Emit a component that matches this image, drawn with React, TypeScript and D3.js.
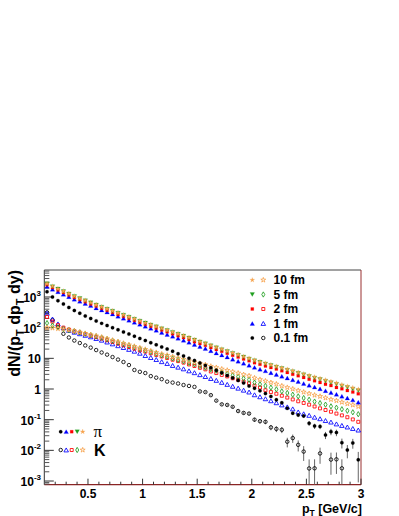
import React from 'react';
import * as d3 from 'd3';

// ---------- data ----------
const pT = [0.125,0.175,0.225,0.275,0.325,0.375,0.425,0.475,0.525,0.575,0.625,0.675,0.725,0.775,0.825,0.875,0.925,0.975,1.025,1.075,1.125,1.175,1.225,1.275,1.325,1.375,1.425,1.475,1.525,1.575,1.625,1.675,1.725,1.775,1.825,1.875,1.925,1.975,2.025,2.075,2.125,2.175,2.225,2.275,2.325,2.375,2.425,2.475,2.525,2.575,2.625,2.675,2.725,2.775,2.825,2.875,2.925,2.975];

const pion10fm = [2750,2240,1860,1550,1290,1070,912,776,661,562,479,412,355,305,263,226,195,168,145,126,110,95.5,83.2,72.4,63.1,55.0,47.3,40.7,35.5,30.9,26.6,22.9,20.0,17.4,15.1,13.2,11.5,10.0,8.71,7.76,6.92,6.17,5.50,4.90,4.37,3.89,3.47,3.09,2.75,2.45,2.19,1.95,1.74,1.55,1.38,1.23,1.10,0.977];
const pion5fm = [2700,2190,1820,1520,1260,1050,895,760,648,551,470,404,348,299,257,221,191,164,142,123,107,93.0,81.0,70.5,61.4,53.4,46.0,39.6,34.5,30.0,25.8,22.2,19.3,16.8,14.6,12.7,11.1,9.62,8.36,7.43,6.62,5.89,5.24,4.66,4.14,3.68,3.27,2.91,2.58,2.29,2.04,1.81,1.61,1.43,1.27,1.13,1.00,0.89];
const pion2fm = [2500,2040,1690,1410,1160,963,821,698,595,506,426,367,316,271,234,201,174,150,129,112,96.8,84.0,73.2,63.0,54.9,47.9,41.2,35.0,30.5,26.6,22.6,19.5,17.0,14.6,12.7,11.1,9.55,8.30,7.23,6.36,5.67,5.00,4.46,3.92,3.45,3.03,2.71,2.38,2.09,1.86,1.64,1.44,1.29,1.13,1.01,0.886,0.792,0.694];
const pion1fm = [2170,1770,1470,1220,1020,845,720,613,522,438,374,321,277,235,203,174,148,128,110,94.5,81.4,69.7,59.9,52.1,44.8,38.5,33.1,28.1,24.1,20.7,17.6,14.9,12.8,11.0,9.36,8.05,6.90,5.90,5.05,4.42,3.88,3.39,2.97,2.60,2.27,1.98,1.74,1.51,1.32,1.15,1.01,0.878,0.766,0.667,0.580,0.504,0.440,0.371];
const pion01fm = [1480,1000,759,589,457,363,295,240,200,166,138,117,100,85.1,72.4,61.7,52.5,44.7,38.0,32.4,27.5,23.4,20.0,17.0,14.1,12.0,10.0,8.51,7.08,5.89,4.90,4.07,3.39,2.75,2.29,1.91,1.58,1.26,1.05,0.871,0.708,0.575,0.447,0.355,0.234,0.162,0.141,0.132,0.0759,0.0617,0.060,0.0316,0.0407,0.038,0.0178,0.0102,0.0175,0.0049];
const pion01fmErr = [0,0,0,0,0,0,0,0,0,0,0,0,0,0,0,0,0,0,0,0,0,0,0,0,0,0,0,0,0,0,0,0,0,0,0,0,0,0,0,0,0.039,0.036,0.031,0.028,0.023,0.019,0.018,0.017,0.013,0.012,0.011,0.0083,0.0095,0.0091,0.0063,0.0047,0.0062,0.004];

const kaon10fm = [100,97.7,93.3,89.1,83.2,77.6,70.8,64.6,58.9,53.7,49.0,43.7,38.9,34.7,30.9,27.5,24.5,21.9,19.5,17.4,15.5,13.8,12.6,11.2,10.2,9.33,8.32,7.59,6.76,6.17,5.50,5.01,4.47,4.07,3.63,3.31,2.95,2.69,2.29,2.04,1.82,1.62,1.45,1.26,1.12,1.00,0.891,0.794,0.708,0.631,0.575,0.513,0.457,0.417,0.372,0.331,0.302,0.269];
const kaon5fm = [141,117,102,91.2,82.5,77.0,70.0,63.5,57.5,52.3,47.4,42.2,37.6,33.4,29.6,26.3,23.4,20.7,18.2,16.2,14.3,12.6,11.4,10.0,9.0,8.13,7.16,6.46,5.62,5.01,4.42,3.98,3.51,3.16,2.79,2.51,2.21,2.00,1.62,1.43,1.26,1.11,0.977,0.841,0.741,0.653,0.575,0.507,0.447,0.389,0.347,0.309,0.272,0.245,0.219,0.195,0.174,0.151];
const kaon2fm = [224,158,120,100,87.1,76.0,69.2,61.7,55.0,49.0,44.2,38.9,34.3,30.2,26.6,23.4,20.7,18.2,16.6,14.6,12.9,11.5,10.2,9.02,8.13,7.24,6.31,5.62,4.90,4.37,3.72,3.31,2.88,2.57,2.24,2.00,1.74,1.55,1.29,1.12,0.912,0.794,0.700,0.603,0.525,0.457,0.398,0.351,0.309,0.269,0.234,0.207,0.182,0.158,0.138,0.120,0.102,0.0851];
const kaon1fm = [295,191,132,98,81,70.8,63.1,56.2,50.1,44.2,38.9,33.9,29.5,25.7,22.4,19.5,17.0,14.6,12.3,10.6,9.12,7.76,6.76,5.82,5.13,4.52,3.89,3.39,2.92,2.54,2.19,1.91,1.64,1.41,1.22,1.06,0.912,0.794,0.646,0.556,0.479,0.412,0.355,0.302,0.260,0.224,0.178,0.155,0.138,0.120,0.107,0.0933,0.0832,0.0724,0.0646,0.0575,0.0513,0.0457];
const kaon01fm: (number | null)[] = [316,178,105,63.1,47.9,38.0,31.6,26.3,22.4,18.6,15.5,13.2,11.0,9.12,7.59,6.03,4.17,3.63,3.31,2.63,2.34,2.09,1.74,1.62,1.51,1.35,1.26,1.17,0.832,0.794,0.631,0.417,0.316,0.302,0.263,0.191,0.166,0.158,0.100,0.0891,0.0851,0.0562,0.0501,0.0468,0.0191,0.0251,0.0151,0.00912,0.00257,0.0026,0.00794,null,0.0050,0.0051,0.0026,null,null,null];
const kaon01fmErr = [0,0,0,0,0,0,0,0,0,0,0,0,0,0,0,0,0,0,0,0,0,0,0,0,0,0,0,0,0.044,0.043,0.038,0.031,0.027,0.026,0.025,0.021,0.020,0.019,0.015,0.014,0.014,0.011,0.0107,0.0104,0.0066,0.0076,0.0059,0.0046,0.0025,0.0025,0.0043,0,0.0034,0.0034,0.0025,0,0,0];

const legendLabels = ['10 fm', '5 fm', '2 fm', '1 fm', '0.1 fm'];
const xTickLabels = ['0.5', '1', '1.5', '2', '2.5', '3'];
const xTickValues = [0.5, 1, 1.5, 2, 2.5, 3];
const yDecades = [-3, -2, -1, 0, 1, 2, 3];

// ---------- styling ----------
const FONT = '"Liberation Sans", Arial, Helvetica, sans-serif';
const ORANGE = '#f7a34e';
const GREEN = '#1f9e1f';

type Shape = 'circle' | 'square' | 'triUp' | 'triDown' | 'diamond' | 'star';

const symPaths: Record<string, string> = {
  circle: d3.symbol().type(d3.symbolCircle).size(9.5)() as string,
  square: d3.symbol().type(d3.symbolSquare).size(9)() as string,
  triUp: d3.symbol().type(d3.symbolTriangle).size(9)() as string,
  triDown: d3.symbol().type(d3.symbolTriangle).size(9)() as string,
  diamond: d3.symbol().type(d3.symbolDiamond).size(8)() as string,
  star: d3.symbol().type(d3.symbolStar).size(7.5)() as string,
};

function Marker({ shape, filled, color, cx, cy }: { shape: Shape; filled: boolean; color: string; cx: number; cy: number }) {
  const rot = shape === 'triDown' ? ' rotate(180)' : '';
  const dy = shape === 'triUp' ? 0.6 : shape === 'triDown' ? -0.6 : 0;
  return (
    <path
      d={symPaths[shape]}
      transform={`translate(${cx},${cy + dy})${rot}`}
      fill={filled ? color : 'none'}
      stroke={color}
      strokeWidth={filled ? 0.2 : 0.85}
    />
  );
}

const shapesPion: Shape[] = ['star', 'triDown', 'square', 'triUp', 'circle'];
const shapesKaon: Shape[] = ['star', 'diamond', 'square', 'triUp', 'circle'];
const colors = [ORANGE, GREEN, '#ff0000', '#0000ff', '#000000'];

export default function App() {
  const left = 44.3, right = 361, top = 270, bottom = 484.7;
  const x = d3.scaleLinear().domain([0.1, 3.0]).range([left, right]);
  const y = d3.scaleLog().domain([Math.pow(10, -3.12), Math.pow(10, 3.88)]).range([bottom, top]);

  const pionSets = [pion10fm, pion5fm, pion2fm, pion1fm, pion01fm];
  const kaonSets = [kaon10fm, kaon5fm, kaon2fm, kaon1fm, kaon01fm];
  const errSets: Record<string, number[]> = { p4: pion01fmErr, k4: kaon01fmErr };

  const order = [4, 3, 2, 1, 0];

  const xMinor = d3.range(2, 30).map((d) => d / 10).filter((v) => Math.abs(v * 2 - Math.round(v * 2)) > 1e-6);
  const yMinor: number[] = [];
  for (let n = -4; n <= 3; n++) for (let k = 2; k <= 9; k++) {
    const v = k * Math.pow(10, n);
    if (y(v) <= bottom && y(v) >= top) yMinor.push(v);
  }

  const renderSeries = (vals: (number | null)[], err: number[] | undefined, shape: Shape, filled: boolean, color: string, key: string) => (
    <g key={key}>
      {err && vals.map((v, i) => {
        if (v == null || !err[i]) return null;
        const hi = v + err[i];
        const lo = v - err[i];
        const y1 = y(hi);
        const y2 = lo > 0 ? Math.min(y(lo), bottom) : bottom;
        return <line key={'e' + i} x1={x(pT[i])} x2={x(pT[i])} y1={y1} y2={y2} stroke="#666" strokeWidth={1} />;
      })}
      {vals.map((v, i) => (v == null ? null : (
        <Marker key={i} shape={shape} filled={filled} color={color} cx={x(pT[i])} cy={y(v)} />
      )))}
    </g>
  );

  const legY = [280, 294.5, 309, 323.5, 338];

  return (
    <svg width={399} height={516} style={{ position: 'absolute', left: 0, top: 0, background: '#fff' }} fontFamily={FONT}>
      <defs>
        <clipPath id="frame">
          <rect x={left} y={top} width={right - left} height={bottom - top} />
        </clipPath>
      </defs>
      <rect x={0} y={0} width={399} height={516} fill="#fff" />

      {/* frame */}
      <line x1={left} x2={right} y1={top} y2={top} stroke="#444" strokeWidth={1} />
      <line x1={right} x2={right} y1={top} y2={bottom} stroke="#9a3030" strokeWidth={1} />
      <line x1={left} x2={right} y1={bottom} y2={bottom} stroke="#8a2424" strokeWidth={1.2} />
      <line x1={left} x2={left} y1={top} y2={bottom} stroke="#333" strokeWidth={1} />

      {/* x ticks */}
      {xTickValues.map((v) => (
        <line key={'xt' + v} x1={x(v)} x2={x(v)} y1={bottom} y2={bottom - 6} stroke="#333" strokeWidth={1} />
      ))}
      {xMinor.map((v) => (
        <line key={'xm' + v} x1={x(v)} x2={x(v)} y1={bottom} y2={bottom - 3} stroke="#333" strokeWidth={1} />
      ))}
      {xTickValues.map((v, i) => (
        <text key={'xl' + v} x={x(v)} y={498.3} textAnchor="middle" fontSize={12} fontWeight="bold">{xTickLabels[i]}</text>
      ))}

      {/* y ticks */}
      {yDecades.map((n) => (
        <line key={'yt' + n} x1={left} x2={left + 9.5} y1={y(Math.pow(10, n))} y2={y(Math.pow(10, n))} stroke="#333" strokeWidth={1} />
      ))}
      {yMinor.map((v, i) => (
        <line key={'ym' + i} x1={left} x2={left + 5} y1={y(v)} y2={y(v)} stroke="#555" strokeWidth={1} />
      ))}
      {yDecades.map((n) => {
        const ty = y(Math.pow(10, n));
        if (n === 0) return <text key={'yl' + n} x={41} y={ty + 4.5} textAnchor="end" fontSize={12} fontWeight="bold">1</text>;
        if (n === 1) return <text key={'yl' + n} x={41} y={ty + 4.5} textAnchor="end" fontSize={12} fontWeight="bold">10</text>;
        return (
          <text key={'yl' + n} x={41} y={ty + 5} textAnchor="end" fontSize={12} fontWeight="bold">
            10<tspan dy={-6} fontSize={8}>{String(n)}</tspan>
          </text>
        );
      })}

      {/* axis titles */}
      <text x={362} y={512.5} textAnchor="end" fontSize={12.5} fontWeight="bold">
        p<tspan dy={3} fontSize={8.5}>T</tspan><tspan dy={-3}> [GeV/c]</tspan>
      </text>
      <text transform={`translate(20,${top}) rotate(-90)`} textAnchor="end" fontSize={16} fontWeight="bold">
        dN/(p<tspan dy={4} fontSize={11}>T</tspan><tspan dy={-4}> dp</tspan><tspan dy={4} fontSize={11}>T</tspan><tspan dy={-4}> dy)</tspan>
      </text>

      {/* data */}
      <g clipPath="url(#frame)">
        {order.map((s) => renderSeries(kaonSets[s], errSets['k' + s], shapesKaon[s], false, colors[s], 'k' + s))}
        {order.map((s) => renderSeries(pionSets[s], errSets['p' + s], shapesPion[s], true, colors[s], 'p' + s))}
      </g>

      {/* top-right legend */}
      {legendLabels.map((lab, i) => (
        <g key={'leg' + i}>
          <Marker shape={shapesPion[i]} filled color={colors[i]} cx={252.3} cy={legY[i]} />
          <Marker shape={shapesKaon[i]} filled={false} color={colors[i]} cx={263.3} cy={legY[i]} />
          <text x={273.5} y={legY[i] + 4.3} fontSize={12} fontWeight="bold">{lab}</text>
        </g>
      ))}

      {/* bottom-left legend */}
      {[4, 3, 2, 1, 0].map((s, j) => (
        <g key={'bl' + s}>
          <Marker shape={shapesPion[s]} filled color={colors[s]} cx={60.7 + j * 5.5} cy={431.7} />
          <Marker shape={shapesKaon[s]} filled={false} color={colors[s]} cx={60.7 + j * 5.5} cy={450} />
        </g>
      ))}
      <text x={93.5} y={436.5} fontSize={17} fontFamily='"Liberation Serif", "DejaVu Serif", serif'>π</text>
      <text x={94} y={455.5} fontSize={16} fontWeight="bold">K</text>
    </svg>
  );
}
